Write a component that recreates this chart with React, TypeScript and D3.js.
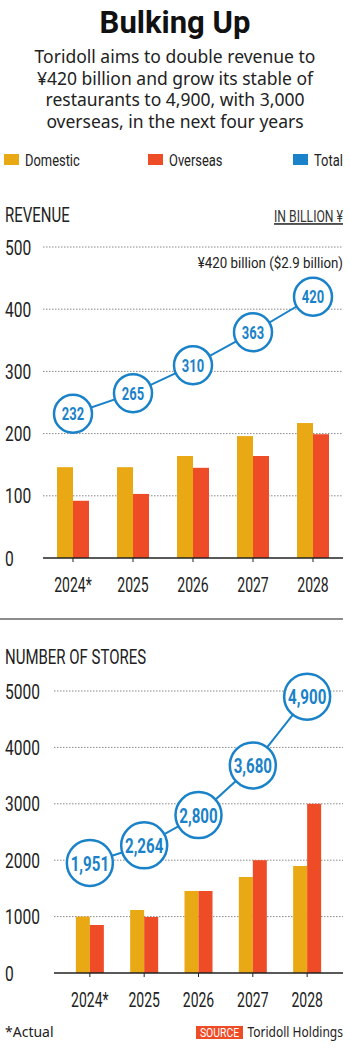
import * as d3 from 'd3';

const YEARS = ['2024*', '2025', '2026', '2027', '2028'];

const REV_DOMESTIC = [146, 146, 164, 196, 217];
const REV_OVERSEAS = [92, 103, 145, 164, 199];
const REV_TOTAL = [232, 265, 310, 363, 420];
const REV_TICKS = [0, 100, 200, 300, 400, 500];

const STORE_DOMESTIC = [1000, 1117, 1454, 1702, 1897];
const STORE_OVERSEAS = [851, 993, 1454, 2000, 3000];
const STORE_TOTAL = [1951, 2264, 2800, 3680, 4900];
const STORE_TICKS = [0, 1000, 2000, 3000, 4000, 5000];

const BLUE = '#1a82c8';
const ORANGE = '#e8a915';
const RED = '#ee4b27';
const COND = 'Roboto, "Noto Sans", sans-serif';
const SANS = '"Noto Sans", "Open Sans", sans-serif';

// no condensed face installed, so squeeze Roboto horizontally
type CTextProps = {
  x: number;
  y: number;
  size: number;
  children: any;
  anchor?: string;
  weight?: string;
  fill?: string;
  sx?: number;
  family?: string;
  underline?: boolean;
};

const CText = ({ x, y, size, children, anchor = 'start', weight = 'normal', fill = '#222', sx = 0.74, family = COND, underline }: CTextProps) => (
  <text
    transform={`translate(${x},${y}) scale(${sx},1)`}
    textAnchor={anchor}
    fontFamily={family}
    fontSize={size}
    fontWeight={weight}
    fill={fill}
    textDecoration={underline ? 'underline' : undefined}
  >
    {children}
  </text>
);

type PanelProps = {
  top: number;
  bottom: number;
  left: number;
  domestic: number[];
  overseas: number[];
  total: number[];
  ticks: number[];
  max: number;
  padding: number;
  barW: number;
  r: number;
  labelSize: number;
  fmt: (v: number) => string;
};

const Panel = ({ top, bottom, left, domestic, overseas, total, ticks, max, padding, barW, r, labelSize, fmt }: PanelProps) => {
  const right = 343;
  const x = d3.scalePoint<string>().domain(YEARS).range([left, right]).padding(padding);
  const y = d3.scaleLinear().domain([0, max]).range([bottom, top]);
  const line = d3.line<number>().x((_, i) => x(YEARS[i])!).y(d => y(d));

  return (
    <g>
      {ticks.map(t => (
        <g key={t}>
          {t > 0 && (
            <line x1={left} x2={right} y1={y(t)} y2={y(t)} stroke="#888" strokeWidth={1} strokeDasharray="1.5 1.5" />
          )}
          <CText x={5} y={y(t) + 7.5} size={21}>{t}</CText>
        </g>
      ))}
      {YEARS.map((yr, i) => (
        <g key={yr}>
          <rect x={x(yr)! - barW} y={y(domestic[i])} width={barW} height={bottom - y(domestic[i])} fill={ORANGE} />
          <rect x={x(yr)!} y={y(overseas[i])} width={barW} height={bottom - y(overseas[i])} fill={RED} />
          <line x1={x(yr)} x2={x(yr)} y1={bottom} y2={bottom + 4} stroke="#222" strokeWidth={1} />
          <CText x={x(yr)!} y={bottom + 34} anchor="middle" size={20} sx={0.7}>{yr}</CText>
        </g>
      ))}
      <line x1={left} x2={right} y1={bottom} y2={bottom} stroke="#222" strokeWidth={1.5} />
      <path d={line(total)!} fill="none" stroke={BLUE} strokeWidth={2} />
      {total.map((v, i) => (
        <g key={i}>
          <circle cx={x(YEARS[i])} cy={y(v)} r={r} fill="#fff" stroke={BLUE} strokeWidth={2.5} />
          <CText x={x(YEARS[i])!} y={y(v) + labelSize * 0.36} anchor="middle" size={labelSize} weight="bold" fill={BLUE} sx={0.72}>
            {fmt(v)}
          </CText>
        </g>
      ))}
    </g>
  );
};

const App = () => {
  const subtitle = [
    'Toridoll aims to double revenue to',
    '¥420 billion and grow its stable of',
    'restaurants to 4,900, with 3,000',
    'overseas, in the next four years',
  ];
  const legend = [
    { label: 'Domestic', color: ORANGE, x: 4 },
    { label: 'Overseas', color: RED, x: 148 },
    { label: 'Total', color: BLUE, x: 293 },
  ];
  return (
    <svg width={350} height={1049} style={{ position: 'absolute', left: 0, top: 0, background: '#fff' }}>
      <text x={175} y={33} textAnchor="middle" fontFamily="Roboto, sans-serif" fontWeight="bold" fontSize={31} fill="#111">Bulking Up</text>
      {subtitle.map((s, i) => (
        <text key={i} x={175} y={63 + i * 21.5} textAnchor="middle" fontFamily={SANS} fontSize={17.5} fill="#222">{s}</text>
      ))}
      {legend.map(l => (
        <g key={l.label}>
          <rect x={l.x} y={154} width={15} height={11} fill={l.color} />
          <CText x={l.x + 21} y={166} size={17} sx={0.76}>{l.label}</CText>
        </g>
      ))}

      <CText x={5} y={222} size={20} sx={0.75}>REVENUE</CText>
      <CText x={343} y={222} anchor="end" size={16.5} fill="#333" underline>IN BILLION ¥</CText>
      <CText x={343} y={268} anchor="end" size={15.5} sx={0.86}>¥420 billion ($2.9 billion)</CText>
      <Panel top={247} bottom={558} left={43} domestic={REV_DOMESTIC} overseas={REV_OVERSEAS} total={REV_TOTAL}
        ticks={REV_TICKS} max={500} padding={0.5} barW={16} r={19} labelSize={18} fmt={d3.format('d')} />

      <line x1={0} x2={343} y1={619} y2={619} stroke="#666" strokeWidth={1.5} />

      <CText x={5} y={664} size={20} sx={0.75}>NUMBER OF STORES</CText>
      <Panel top={691} bottom={973} left={54} domestic={STORE_DOMESTIC} overseas={STORE_OVERSEAS} total={STORE_TOTAL}
        ticks={STORE_TICKS} max={5000} padding={0.66} barW={14} r={23} labelSize={21} fmt={d3.format(',')} />

      <text x={5} y={1037} fontFamily={SANS} fontSize={14} fill="#222">*Actual</text>
      <rect x={196} y={1026} width={47} height={13} fill={RED} />
      <CText x={219.5} y={1037} anchor="middle" size={13} fill="#fff" sx={0.8}>SOURCE</CText>
      <CText x={343} y={1037} anchor="end" size={14} family={SANS} sx={0.86}>Toridoll Holdings</CText>
    </svg>
  );
};

export default App;
